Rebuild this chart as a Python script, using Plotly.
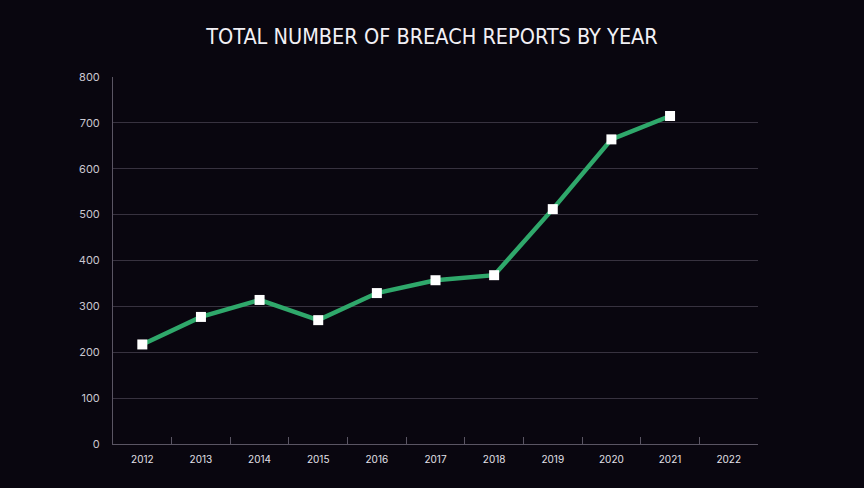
import plotly.graph_objects as go

years = ["2012", "2013", "2014", "2015", "2016", "2017", "2018", "2019", "2020", "2021", "2022"]
reports = [217, 277, 314, 270, 329, 357, 368, 512, 664, 715, None]
y_ticks = [0, 100, 200, 300, 400, 500, 600, 700, 800]

fig = go.Figure()
fig.add_trace(go.Scatter(
    x=years, y=reports, mode="lines+markers",
    line=dict(color="#2fa86b", width=4.5),
    marker=dict(symbol="square", size=10, color="#ffffff", line=dict(width=0)),
    connectgaps=False, hoverinfo="x+y",
))

fig.update_layout(
    width=864, height=488,
    margin=dict(l=113, r=106, t=77, b=44),
    paper_bgcolor="#09060f",
    plot_bgcolor="#09060f",
    showlegend=False,
    title=dict(
        text="TOTAL NUMBER OF BREACH REPORTS BY YEAR",
        x=0.5, xanchor="center", y=0.926, yanchor="middle",
        font=dict(family="DejaVu Sans Condensed", size=21.5, color="#f2f0f5"),
    ),
    xaxis=dict(
        type="category", categoryorder="array", categoryarray=years,
        range=[-0.5, len(years) - 0.5],
        tickson="boundaries", ticks="inside", ticklen=7, tickcolor="#5a5563", tickwidth=1,
        showgrid=False, showline=True, linecolor="#5a5563", linewidth=1,
        ticklabelstandoff=6,
        tickfont=dict(family="Inter, Lato, sans-serif", size=10, color="#e2e0e8"),
        fixedrange=True,
    ),
    yaxis=dict(
        range=[0, 800], tickvals=y_ticks,
        showgrid=True, gridcolor="#37323f", gridwidth=1,
        showline=True, linecolor="#5a5563", linewidth=1,
        zeroline=False, ticks="", ticklabelstandoff=10,
        tickfont=dict(family="Inter, Lato, sans-serif", size=11, color="#c9c7d0"),
        fixedrange=True,
    ),
)

fig.write_html("out.html")
